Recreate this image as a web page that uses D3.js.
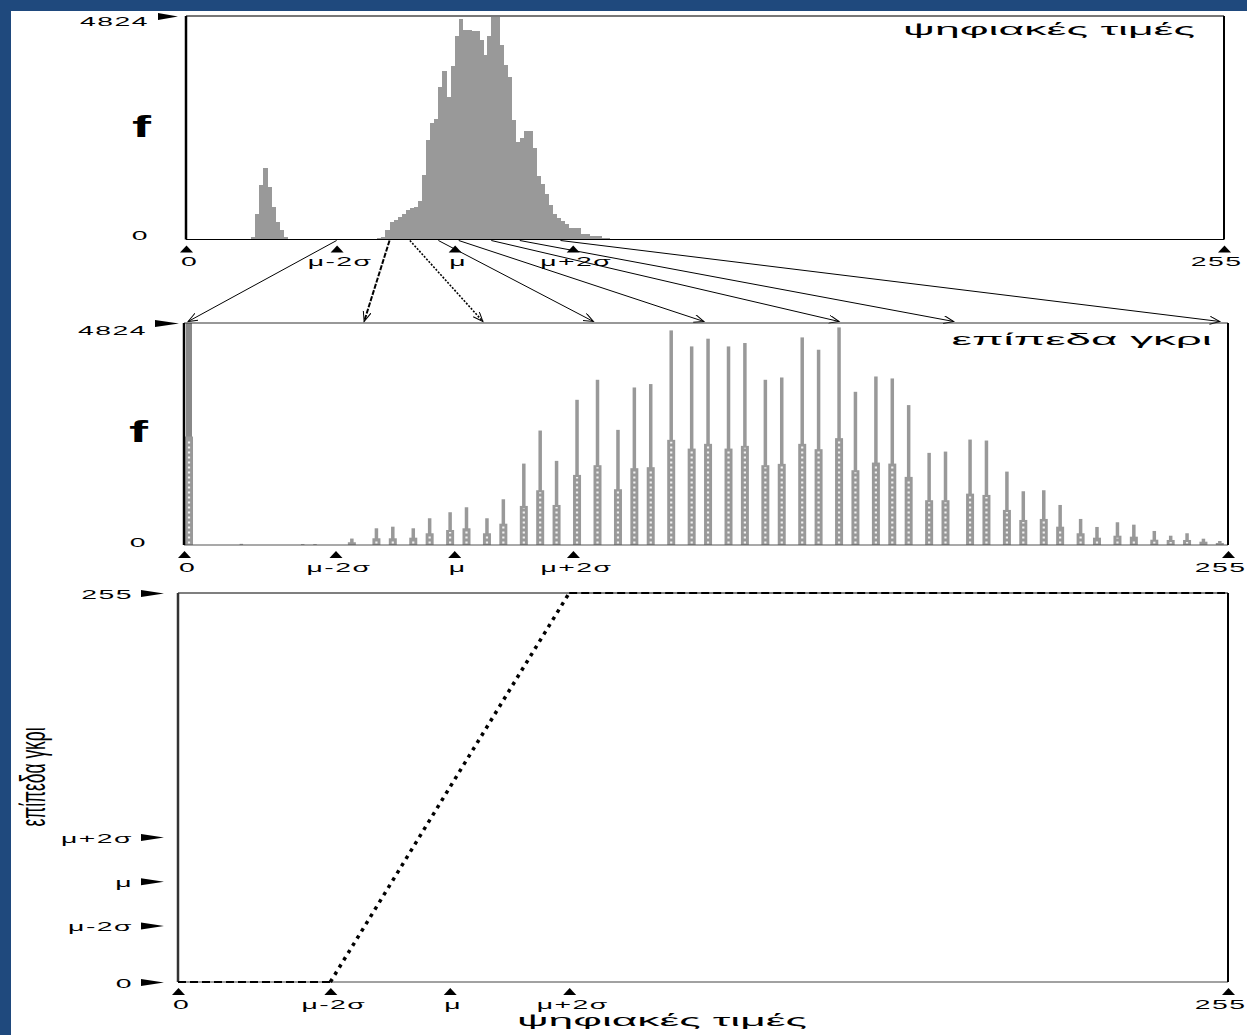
<!DOCTYPE html>
<html>
<head>
<meta charset="utf-8">
<script src="https://cdn.jsdelivr.net/npm/d3@7"></script>
<style>
html, body { margin: 0; padding: 0; background: #1f497d; }
svg { display: block; }
</style>
</head>
<body>
<svg id="chart" width="1247" height="1035"></svg>
<script>
// ---- data ----
var tickVals = [0, 37, 66, 95, 255];
var tickLabels = ['0', 'μ-2σ', 'μ', 'μ+2σ', '255'];
var fMax = 4824;

// original digital values (top histogram)
var topLevels = [16, 17, 18, 19, 20, 21, 22, 23, 24, 44, 45, 47,
    48, 49, 50, 51, 52, 53, 54, 55, 56, 57, 58, 59, 60, 61, 62, 63, 64, 65,
    66, 67, 68, 69, 70, 71, 72, 73, 74, 75, 76, 77, 78, 79, 80, 81, 82, 83,
    84, 85, 86, 87, 88, 89, 90, 91, 92, 93, 94, 95, 96, 97, 98, 99, 100, 101, 102, 103];
var topCounts = [50, 560, 1174, 1534, 1140, 705, 380, 200, 60, 20, 20, 30,
    60, 200, 380, 430, 490, 560, 640, 690, 705, 824, 1388, 2143, 2517, 2600, 3300, 3630, 3077, 3740,
    4390, 4760, 4520, 4530, 4490, 4490, 4300, 3980, 4400, 4800, 4824, 4190, 3770, 3500, 2575, 2100, 2200, 2350,
    2350, 1970, 1380, 1200, 980, 740, 540, 470, 400, 345, 250, 250, 250, 110, 110, 80, 80, 80, 35, 35];

// stretched grey levels (middle histogram): full bar and lower (patterned) part
var midLevels = [0, 14, 29, 32, 41, 47, 51, 56, 60, 65, 69, 74, 78, 83, 87, 91, 96, 101, 106,
    110, 114, 119, 124, 128, 133, 137, 142, 146, 151, 155, 160, 164, 169, 173, 177, 182, 186,
    192, 196, 201, 205, 210, 214, 219, 223, 228, 232, 237, 241, 245, 249, 253];
var midTotal = [4824, 25, 20, 20, 140, 363, 398, 363, 581, 712, 820, 581, 994, 1769, 2487, 1828, 3155, 3590, 2502,
    3423, 3497, 4663, 4315, 4483, 4315, 4389, 3590, 3640, 4511, 4243, 4728, 3329, 3662, 3619, 3040, 2002, 2030,
    2291, 2270, 1595, 1168, 1190, 870, 566, 392, 494, 442, 305, 202, 255, 137, 87];
var midLower = [2357, 0, 0, 0, 60, 146, 146, 159, 255, 326, 363, 255, 463, 849, 1190, 870, 1523, 1734, 1212,
    1669, 1691, 2285, 2095, 2198, 2095, 2154, 1734, 1763, 2198, 2082, 2322, 1625, 1791, 1769, 1480, 973, 973,
    1116, 1088, 762, 544, 566, 398, 255, 159, 202, 181, 115, 109, 109, 72, 44];

// arrows: original value -> stretched grey level
var arrowFrom = [37, 50, 55, 62, 67, 75, 82, 92];
var arrowTo = [1, 44, 73, 100, 127, 160, 188, 253];

// linear stretch transfer function
var transferIn = [0, 37, 95, 255];
var transferOut = [0, 0, 255, 255];

// ---- drawing ----
var SX = 2.1;   // the whole picture is stretched sideways
var FONT = '"Liberation Sans", Arial, sans-serif';
var GREY = '#999999';

var svg = d3.select('#chart');
svg.append('rect')
    .attr('x', 11).attr('y', 11)
    .attr('width', 1236).attr('height', 1024)
    .attr('fill', '#fff');

var defs = svg.append('defs');
defs.append('marker')
    .attr('id', 'head')
    .attr('markerUnits', 'userSpaceOnUse')
    .attr('markerWidth', 12).attr('markerHeight', 10)
    .attr('refX', 10).attr('refY', 4)
    .attr('orient', 'auto')
    .append('path')
    .attr('d', 'M0,0L10,4L0,8')
    .attr('fill', 'none')
    .attr('stroke', '#000')
    .attr('stroke-width', 1);

var xTop = d3.scaleLinear().domain([0, 255]).range([186, 1224]);
var yTop = d3.scaleLinear().domain([0, fMax]).range([239.5, 16]);
var xMid = d3.scaleLinear().domain([0, 255]).range([184, 1228]);
var yMid = d3.scaleLinear().domain([0, fMax]).range([545, 323]);
var xBot = d3.scaleLinear().domain([0, 255]).range([178, 1228]);
var yBot = d3.scaleLinear().domain([0, 255]).range([982, 593]);

function label(g, x, y, s, size, anchor, sx) {
    return g.append('text')
        .attr('transform', 'translate(' + x + ',' + y + ') scale(' + (sx || SX) + ',1)')
        .attr('text-anchor', anchor || 'start')
        .attr('font-family', FONT)
        .attr('font-size', size)
        .attr('fill', '#000')
        .text(s);
}

function xAxis(scale, y0) {
    var ax = svg.append('g')
        .attr('transform', 'translate(0,' + y0 + ')')
        .call(d3.axisBottom(scale).tickValues(tickVals)
            .tickFormat(function (d, i) { return tickLabels[i]; })
            .tickSize(0));
    ax.select('.domain').remove();
    ax.attr('font-family', FONT).attr('font-size', 13.5);
    ax.selectAll('.tick').append('path')
        .attr('d', 'M-6.5,13L0,6L6.5,13Z')
        .attr('fill', '#000');
    ax.selectAll('.tick text')
        .attr('x', 0).attr('y', 0).attr('dy', 0)
        .attr('letter-spacing', 0.7)
        .attr('text-anchor', function (d) { return d === 255 ? 'end' : 'middle'; })
        .attr('transform', function (d) {
            return 'translate(' + (d === 255 ? 18 : 3) + ',26.5) scale(' + SX + ',1)';
        });
    return ax;
}

function yAxis(scale, x0, vals, labels, lx, flag, allFlags, dyFn) {
    var ax = svg.append('g')
        .attr('transform', 'translate(' + x0 + ',0)')
        .call(d3.axisLeft(scale).tickValues(vals)
            .tickFormat(function (d, i) { return labels[i]; })
            .tickSize(0));
    ax.select('.domain').remove();
    ax.attr('font-family', FONT).attr('font-size', 13.5);
    ax.selectAll('.tick text')
        .attr('x', 0).attr('y', 0).attr('dy', 0)
        .attr('letter-spacing', 0.7)
        .attr('transform', function (d) { return 'translate(' + lx + ',' + dyFn(d) + ') scale(' + SX + ',1)'; });
    ax.selectAll('.tick')
        .filter(function (d) { return allFlags || d === fMax; })
        .append('path')
        .attr('d', 'M' + flag[0] + ',-3.5L' + flag[1] + ',0L' + flag[0] + ',3.5Z')
        .attr('fill', '#000');
    return ax;
}

// ---------- top: histogram of digital values ----------
svg.append('g')
    .attr('shape-rendering', 'crispEdges')
    .selectAll('rect')
    .data(topLevels)
    .enter().append('rect')
    .attr('x', function (d) { return xTop(d); })
    .attr('width', function (d) { return xTop(d + 1) - xTop(d) + 0.6; })
    .attr('y', function (d, i) { return yTop(topCounts[i]); })
    .attr('height', function (d, i) { return yTop(0) - yTop(topCounts[i]); })
    .attr('fill', GREY);

svg.append('line').attr('x1', xTop(0)).attr('x2', xTop(255)).attr('y1', yTop(fMax)).attr('y2', yTop(fMax))
    .attr('stroke', '#777').attr('stroke-width', 2);
svg.append('line').attr('x1', xTop(0)).attr('x2', xTop(255)).attr('y1', yTop(0)).attr('y2', yTop(0))
    .attr('stroke', '#000').attr('stroke-width', 1.2);
svg.append('line').attr('x1', xTop(0)).attr('x2', xTop(0)).attr('y1', yTop(fMax)).attr('y2', yTop(0))
    .attr('stroke', '#000').attr('stroke-width', 2.5);
svg.append('line').attr('x1', xTop(255)).attr('x2', xTop(255)).attr('y1', yTop(fMax)).attr('y2', yTop(0))
    .attr('stroke', '#000').attr('stroke-width', 2);

xAxis(xTop, yTop(0));
yAxis(yTop, xTop(0), [0, fMax], ['0', '4824'], -37, [-28, -8], false,
    function (d) { return d === fMax ? 9.5 : 0; });
label(svg, 141.5, 137, 'f', 30, 'middle', 1.9).attr('font-weight', 'bold');
label(svg, 1195, 35, 'ψηφιακές τιμές', 17, 'end')
    .attr('textLength', 139).attr('lengthAdjust', 'spacingAndGlyphs');

// ---------- arrows between the two histograms ----------
svg.append('g').selectAll('line')
    .data(arrowFrom)
    .enter().append('line')
    .attr('x1', function (d) { return xTop(d); })
    .attr('y1', yTop(0) + 1)
    .attr('x2', function (d, i) { return xMid(arrowTo[i]); })
    .attr('y2', yMid(fMax) - 1.5)
    .attr('stroke', '#000')
    .attr('stroke-width', function (d, i) { return i === 1 ? 2 : (i === 2 ? 1.6 : 1); })
    .attr('stroke-dasharray', function (d, i) { return i === 1 ? '5,1.5' : (i === 2 ? '2,1.5' : null); })
    .attr('marker-end', 'url(#head)');

// ---------- middle: histogram of grey levels ----------
var mid = svg.append('g');
var bars = mid.selectAll('g')
    .data(midLevels)
    .enter().append('g')
    .attr('transform', function (d) { return 'translate(' + Math.max(xMid(d), xMid(0) + 5) + ',0)'; });
bars.append('rect')
    .attr('x', function (d) { return d === 0 ? -3 : -1.75; })
    .attr('width', function (d) { return d === 0 ? 6 : 3.5; })
    .attr('y', function (d, i) { return yMid(midTotal[i]); })
    .attr('height', function (d, i) { return yMid(0) - yMid(midTotal[i]); })
    .attr('fill', function (d) { return d === 0 ? '#888' : GREY; });
bars.filter(function (d, i) { return midLower[i] > 0; })
    .append('rect')
    .attr('x', -4).attr('width', 8)
    .attr('y', function (d) { return yMid(midLower[midLevels.indexOf(d)]); })
    .attr('height', function (d) { return yMid(0) - yMid(midLower[midLevels.indexOf(d)]); })
    .attr('fill', GREY);
bars.filter(function (d, i) { return yMid(0) - yMid(midLower[i]) > 5; })
    .append('line')
    .attr('x1', 0).attr('x2', 0)
    .attr('y1', yMid(0) - 1.5)
    .attr('y2', function (d) { return yMid(midLower[midLevels.indexOf(d)]) + 2; })
    .attr('stroke', '#f2f2f2')
    .attr('stroke-width', 2.2)
    .attr('stroke-dasharray', '2,3');

svg.append('line').attr('x1', xMid(0)).attr('x2', xMid(255)).attr('y1', yMid(fMax)).attr('y2', yMid(fMax))
    .attr('stroke', '#333').attr('stroke-width', 1.2);
svg.append('line').attr('x1', xMid(0)).attr('x2', xMid(255)).attr('y1', yMid(0)).attr('y2', yMid(0))
    .attr('stroke', '#555').attr('stroke-width', 1.2);
svg.append('line').attr('x1', xMid(0)).attr('x2', xMid(0)).attr('y1', yMid(fMax)).attr('y2', yMid(0))
    .attr('stroke', '#000').attr('stroke-width', 2.5);
svg.append('line').attr('x1', xMid(255)).attr('x2', xMid(255)).attr('y1', yMid(fMax)).attr('y2', yMid(0))
    .attr('stroke', '#000').attr('stroke-width', 2);

xAxis(xMid, yMid(0));
yAxis(yMid, xMid(0), [0, fMax], ['0', '4824'], -37, [-29, -5], false,
    function (d) { return d === fMax ? 11 : 1; });
label(svg, 138.5, 442, 'f', 30, 'middle', 1.9).attr('font-weight', 'bold');
label(svg, 1212, 345, 'επίπεδα γκρι', 17, 'end')
    .attr('textLength', 124).attr('lengthAdjust', 'spacingAndGlyphs');

// ---------- bottom: transfer function ----------
svg.append('line').attr('x1', xBot(0)).attr('x2', xBot(255)).attr('y1', yBot(255)).attr('y2', yBot(255))
    .attr('stroke', '#000').attr('stroke-width', 1.2);
svg.append('line').attr('x1', xBot(0)).attr('x2', xBot(255)).attr('y1', yBot(0)).attr('y2', yBot(0))
    .attr('stroke', '#444').attr('stroke-width', 1.2);
svg.append('line').attr('x1', xBot(0)).attr('x2', xBot(0)).attr('y1', yBot(255)).attr('y2', yBot(0))
    .attr('stroke', '#333').attr('stroke-width', 2.5);
svg.append('line').attr('x1', xBot(255)).attr('x2', xBot(255)).attr('y1', yBot(255)).attr('y2', yBot(0))
    .attr('stroke', '#000').attr('stroke-width', 2);

var segs = d3.range(transferIn.length - 1);
svg.append('g').selectAll('line')
    .data(segs)
    .enter().append('line')
    .attr('x1', function (i) { return xBot(transferIn[i]); })
    .attr('y1', function (i) { return yBot(transferOut[i]); })
    .attr('x2', function (i) { return xBot(transferIn[i + 1]); })
    .attr('y2', function (i) { return yBot(transferOut[i + 1]); })
    .attr('stroke', '#000')
    .attr('stroke-width', function (i) { return transferOut[i] === transferOut[i + 1] ? 2 : 3.5; })
    .attr('stroke-dasharray', function (i) { return transferOut[i] === transferOut[i + 1] ? '8,4' : '3.5,5'; });

xAxis(xBot, yBot(0));
yAxis(yBot, xBot(0), tickVals, tickLabels, -45, [-37, -14], true,
    function () { return 5; });
svg.append('text')
    .attr('transform', 'translate(45,777) scale(2.1,1) rotate(-90)')
    .attr('text-anchor', 'middle')
    .attr('font-family', FONT)
    .attr('font-size', 17)
    .attr('textLength', 99).attr('lengthAdjust', 'spacingAndGlyphs')
    .text('επίπεδα γκρι');
label(svg, 517, 1026, 'ψηφιακές τιμές', 16, 'start')
    .attr('textLength', 138).attr('lengthAdjust', 'spacingAndGlyphs');
</script>
</body>
</html>
